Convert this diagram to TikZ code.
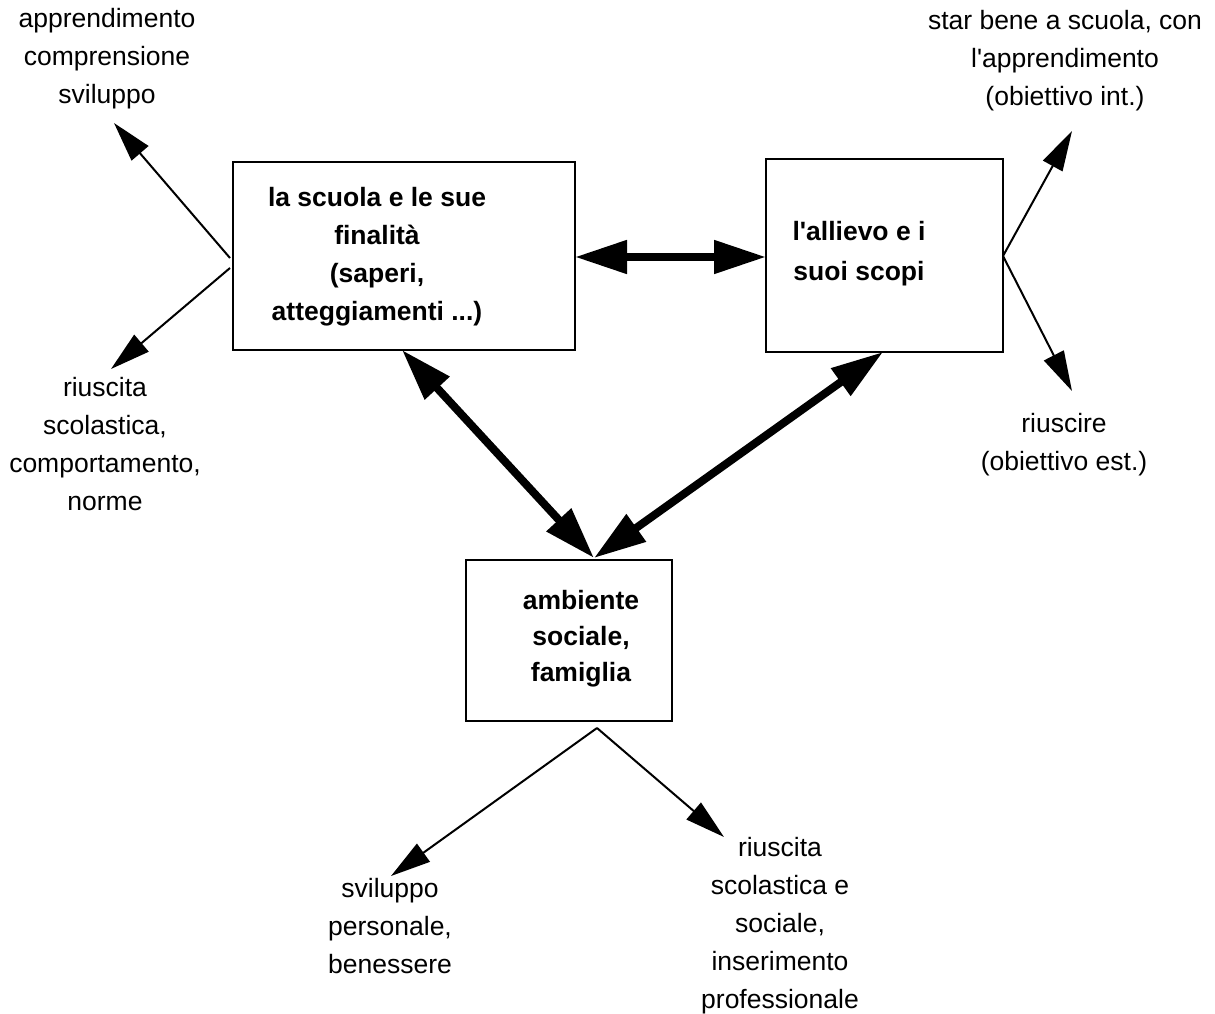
\documentclass[tikz,border=0pt]{standalone}
\usepackage{fontspec}
\setmainfont{Liberation Sans}
\usetikzlibrary{arrows.meta}
\begin{document}
\begin{tikzpicture}[x=1pt,y=-1pt,
  lbl/.style={align=center,inner sep=0pt,font=\fontsize{26.5}{38}\selectfont},
  boxtxt/.style={align=center,inner sep=0pt,font=\fontsize{26.5}{38}\selectfont\bfseries},
  frame/.style={draw,line width=2.5pt},
  thin/.style={line width=2pt,-{Triangle[length=40pt,width=22pt]}},
  thick/.style={line width=8pt,{Triangle[length=52pt,width=32pt]}-{Triangle[length=52pt,width=32pt]}},
]
\useasboundingbox (0,0) rectangle (1215,1014);
% boxes
\draw[frame] (233,162) rectangle (575,350);
\draw[frame] (766,159) rectangle (1003,352);
\draw[frame] (466,560) rectangle (672,721);
\coordinate (b1W1) at (230,258);
\coordinate (b1W2) at (230,268);
\coordinate (b1E) at (575,257);
\coordinate (b1S) at (402,350);
\coordinate (b2W) at (766,257);
\coordinate (b2E) at (1003,256);
\coordinate (b2S) at (883,352);
\coordinate (b3N) at (594,558);
\coordinate (b3S) at (597,728);
% box texts
\node[boxtxt] (t1) at (377,257) {la scuola e le sue\\finalità\\(saperi,\\atteggiamenti ...)};
\node[boxtxt,font=\fontsize{26.5}{40}\selectfont\bfseries] (t2) at (859,254) {l\textquotesingle allievo e i\\suoi scopi};
\node[boxtxt,font=\fontsize{26.5}{36}\selectfont\bfseries] (t3) at (581,639) {ambiente\\sociale,\\famiglia};
% labels
\node[lbl] (l1) at (107,59) {apprendimento\\comprensione\\sviluppo};
\node[lbl] (l2) at (105,444) {riuscita\\scolastica,\\comportamento,\\norme};
\node[lbl] (l3) at (1065,61) {star bene a scuola, con\\l\textquotesingle apprendimento\\(obiettivo int.)};
\node[lbl] (l4) at (1064,445) {riuscire\\(obiettivo est.)};
\node[lbl] (l5) at (390,926) {sviluppo\\personale,\\benessere};
\node[lbl] (l6) at (780,926) {riuscita\\scolastica e\\sociale,\\inserimento\\professionale};
% tips
\coordinate (p1) at (114,123);
\coordinate (p2) at (111,369);
\coordinate (p3) at (1072,131);
\coordinate (p4) at (1072,391);
\coordinate (p5) at (391,876);
\coordinate (p6) at (724,837);
% thin arrows
\draw[thin] (b1W1) -- (p1);
\draw[thin] (b1W2) -- (p2);
\draw[thin] (b2E) -- (p3);
\draw[thin] (b2E) -- (p4);
\draw[thin] (b3S) -- (p5);
\draw[thin] (b3S) -- (p6);
% thick arrows
\draw[thick] (b1E) -- (b2W);
\draw[thick] (b1S) -- (b3N);
\draw[thick] (b2S) -- (b3N);
\end{tikzpicture}
\end{document}
